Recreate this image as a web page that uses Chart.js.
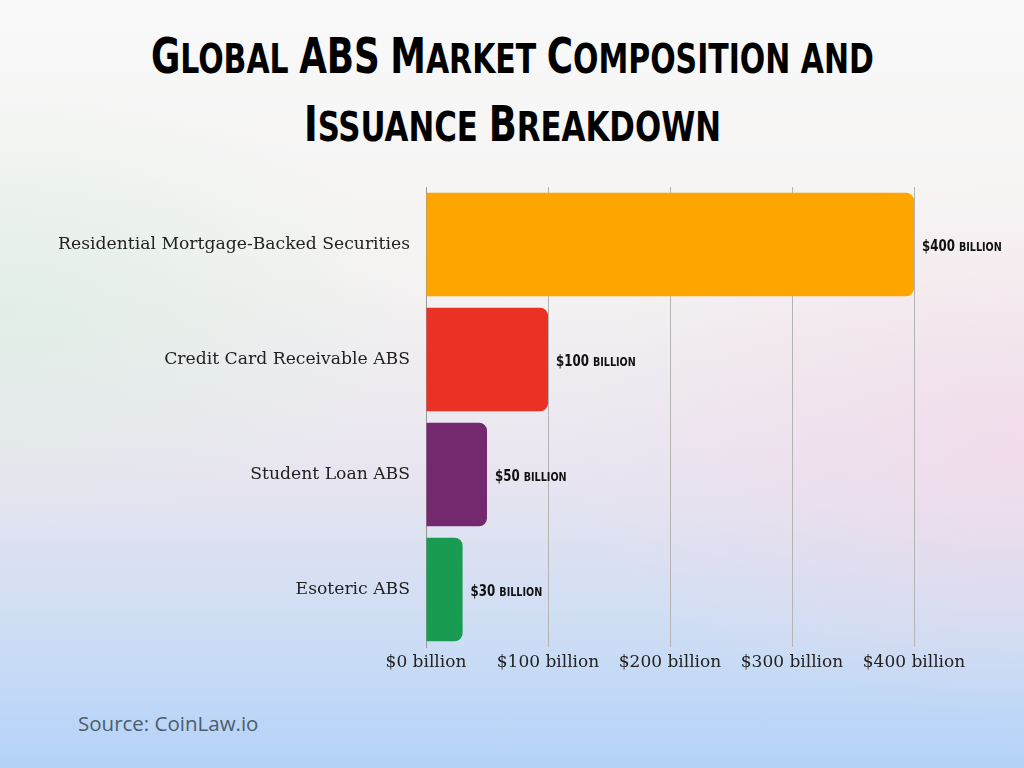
<!DOCTYPE html>
<html>
<head>
<meta charset="utf-8">
<script src="https://cdn.jsdelivr.net/npm/chart.js@4.4.0/dist/chart.umd.min.js"></script>
<style>
  html, body { margin:0; padding:0; width:1024px; height:768px; overflow:hidden; }
  body {
    position:relative;
    background:
      radial-gradient(ellipse 40% 30% at 0% 40%, rgba(210,236,220,0.55), rgba(210,236,220,0) 100%),
      radial-gradient(ellipse 45% 35% at 100% 58%, rgba(245,215,232,0.65), rgba(245,215,232,0) 100%),
      linear-gradient(to bottom, #f9f9f9 0%, #f5f3f2 35%, #e8e5f0 62%, #cadcf5 85%, #b3d2f9 100%);
  }
  #title {
    position:absolute; left:0; top:24px; width:1024px; text-align:center;
    font-family:"DejaVu Sans Condensed","DejaVu Sans",sans-serif; font-weight:bold;
    font-stretch:condensed; color:#000; line-height:65px; font-size:41px;
    text-transform:uppercase;
  }
  #title .line { display:block; white-space:nowrap; }
  #title .line span.inner { display:inline-block; transform-origin:center; }
  #title .big { font-size:49px; }
  #source {
    position:absolute; left:78px; top:709px; font-family:"Open Sans",sans-serif;
    font-size:20.5px; color:#4d5d6d;
  }
  canvas { position:absolute; left:0; top:0; }
</style>
</head>
<body>
<div id="title"><span class="line"><span class="inner" data-w="723">Global ABS Market Composition and</span></span><span class="line"><span class="inner" data-w="417">Issuance Breakdown</span></span></div>
<div id="source">Source: CoinLaw.io</div>
<canvas id="c" width="1024" height="768"></canvas>
<script>
const categories = ["Residential Mortgage-Backed Securities", "Credit Card Receivable ABS", "Student Loan ABS", "Esoteric ABS"];
const values = [400, 100, 50, 30];
const barColors = ["#FFA500", "#EA3125", "#74286E", "#1A9B52"];
const tickValues = [0, 100, 200, 300, 400];
const unitLabel = "billion";

// Title: enlarge original capitals (small-caps look), fit widths
document.querySelectorAll('#title .inner').forEach(el => {
  const txt = el.textContent;
  el.textContent = '';
  for (const ch of txt) {
    if (ch >= 'A' && ch <= 'Z') {
      const s = document.createElement('span'); s.className = 'big'; s.textContent = ch; el.appendChild(s);
    } else {
      el.appendChild(document.createTextNode(ch));
    }
  }
  const w = el.getBoundingClientRect().width;
  const target = parseFloat(el.dataset.w);
  el.style.transform = 'scaleX(' + (target / w) + ')';
});

const FONT_COND = '"DejaVu Sans Condensed", "DejaVu Sans", sans-serif';
const valueLabelPlugin = {
  id: 'valueLabels',
  afterDatasetsDraw(chart) {
    const ctx = chart.ctx;
    const meta = chart.getDatasetMeta(0);
    meta.data.forEach((bar, i) => {
      const num = '$' + values[i] + ' ';
      ctx.save();
      ctx.fillStyle = '#111';
      ctx.textBaseline = 'alphabetic';
      ctx.textAlign = 'left';
      ctx.translate(bar.x + 8, bar.y + 6);
      ctx.scale(0.82, 1);
      ctx.font = 'bold 16px ' + FONT_COND;
      ctx.fillText(num, 0, 0);
      const w = ctx.measureText(num).width;
      ctx.font = 'bold 18px ' + FONT_COND;
      try { ctx.fontVariantCaps = 'small-caps'; } catch (e) {}
      ctx.fillText(unitLabel, w, 0);
      ctx.restore();
    });
  }
};

new Chart(document.getElementById('c'), {
  type: 'bar',
  data: {
    labels: categories,
    datasets: [{
      data: values,
      backgroundColor: barColors,
      borderWidth: 0,
      borderRadius: 8,
      borderSkipped: 'start',
      barPercentage: 0.9,
      categoryPercentage: 1.0
    }]
  },
  plugins: [valueLabelPlugin],
  options: {
    indexAxis: 'y',
    responsive: false,
    animation: false,
    layout: { padding: { top: 187, right: 110, bottom: 81, left: 0 } },
    plugins: { legend: { display: false }, tooltip: { enabled: false } },
    scales: {
      x: {
        min: 0, max: 400,
        afterBuildTicks(scale) { scale.ticks = tickValues.map(v => ({ value: v })); },
        afterFit(scale) { scale.height = 40; },
        grid: { color: '#b4b4b4', lineWidth: 1, drawTicks: false },
        border: { display: false },
        ticks: {
          padding: 5,
          color: '#222',
          font: { family: '"DejaVu Serif", serif', size: 17 },
          callback: (v) => '$' + v + ' ' + unitLabel
        }
      },
      y: {
        afterFit(scale) { scale.width = 426; },
        grid: { display: false, drawTicks: false },
        border: { display: true, color: '#999', width: 1 },
        ticks: {
          padding: 16,
          color: '#222',
          font: { family: '"DejaVu Serif", serif', size: 17.2 }
        }
      }
    }
  }
});
</script>
</body>
</html>
